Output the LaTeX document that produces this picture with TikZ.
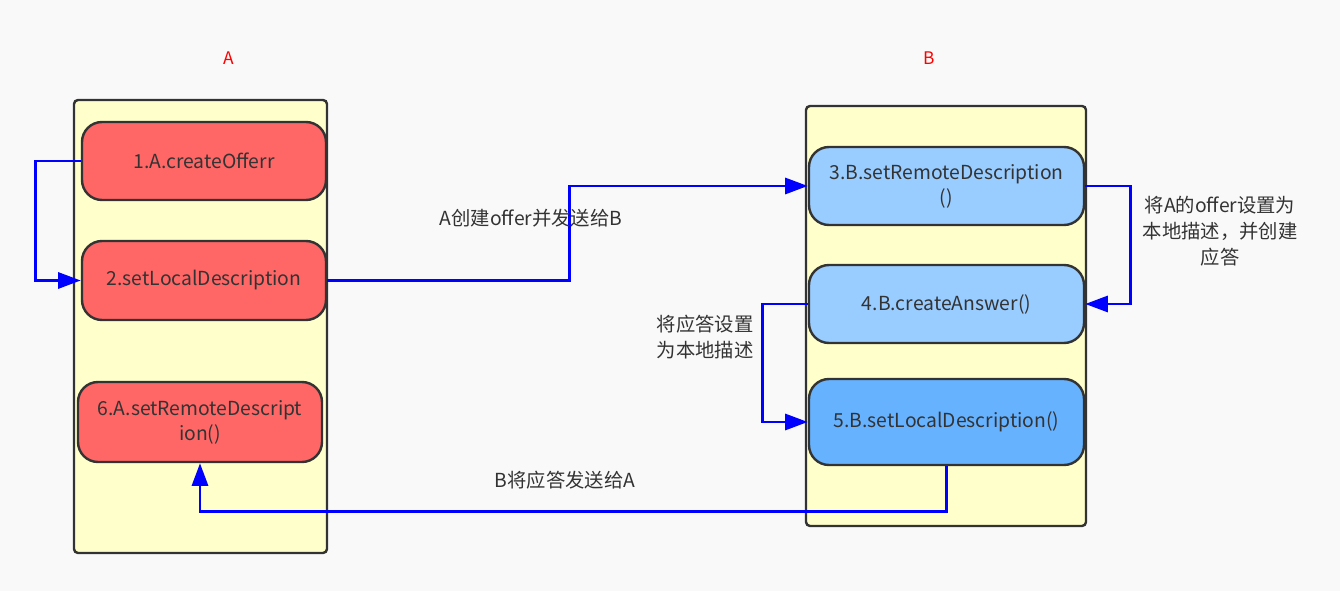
\documentclass[tikz,border=0pt]{standalone}
\usepackage{fontspec}
\setmainfont{Noto Sans CJK SC}
\usetikzlibrary{arrows.meta}
\definecolor{bg}{HTML}{F9F9F9}
\definecolor{boxfill}{HTML}{FFFFCC}
\definecolor{edge}{HTML}{333333}
\definecolor{redfill}{HTML}{FF6666}
\definecolor{bluefill}{HTML}{99CCFF}
\definecolor{bluefillb}{HTML}{66B2FF}
\definecolor{conn}{HTML}{0000FF}
\definecolor{titlered}{HTML}{FF0000}
\tikzset{
  container/.style={draw=edge, line width=1.8pt, fill=boxfill, rounded corners=3pt, inner sep=0pt},
  stepbox/.style={draw=edge, line width=1.8pt, rounded corners=15pt, inner sep=0pt, align=center, text=edge, font=\fontsize{14.5}{18.75}\selectfont},
  conn/.style={draw=conn, line width=2.2pt, -{Triangle[length=17pt,width=12pt]}},
  lbl/.style={text=edge, align=center, font=\fontsize{14.5}{19.5}\selectfont, inner sep=0pt},
  ttl/.style={text=titlered, font=\fontsize{13}{15}\selectfont, inner sep=0pt}
}
\begin{document}
\begin{tikzpicture}[x=0.75pt,y=-0.75pt]
\fill[bg] (0,0) rectangle (1340,591);
\useasboundingbox (0,0) rectangle (1340,591);
\node[container, minimum width=189.75pt, minimum height=339.75pt] (boxA) at (200.5,326.5) {};
\node[container, minimum width=210pt, minimum height=315pt] (boxB) at (946,316) {};
\node[ttl] (tA) at (229,58) {A};
\node[ttl] (tB) at (929,58) {B};
\node[stepbox, fill=redfill, minimum width=183pt, minimum height=58.5pt] (n1) at (204,161) {1.A.createOfferr};
\node[stepbox, fill=redfill, minimum width=183pt, minimum height=59.25pt] (n2) at (204,280.5) {2.setLocalDescription};
\node[stepbox, fill=redfill, minimum width=183pt, minimum height=60pt] (n6) at (200,422) {6.A.setRemoteDescript\\ion()};
\node[stepbox, fill=bluefill, minimum width=206.25pt, minimum height=58.5pt] (n3) at (946.5,186) {3.B.setRemoteDescription\\()};
\node[stepbox, fill=bluefill, minimum width=206.25pt, minimum height=58.5pt] (n4) at (946.5,304) {4.B.createAnswer()};
\node[stepbox, fill=bluefillb, minimum width=206.25pt, minimum height=64.5pt] (n5) at (946.5,422) {5.B.setLocalDescription()};
\draw[conn] (n1.west) -- ++(-45,0) |- (n2.west);
\draw[conn] (n2.east) -- ++(242,0) |- (n3.west);
\draw[conn] (n3.east) -- ++(45,0) |- (n4.east);
\draw[conn] (n4.west) -- ++(-45,0) |- (n5.west);
\draw[conn] (n5.south) -- ++(0,45) -| (n6.south);
\node[lbl] (l1) at (531,218) {A创建offer并发送给B};
\node[lbl] (l2) at (1220,231) {将A的offer设置为\\本地描述，并创建\\应答};
\node[lbl] (l3) at (705,337) {将应答设置\\为本地描述};
\node[lbl] (l4) at (565,480) {B将应答发送给A};
\end{tikzpicture}
\end{document}
